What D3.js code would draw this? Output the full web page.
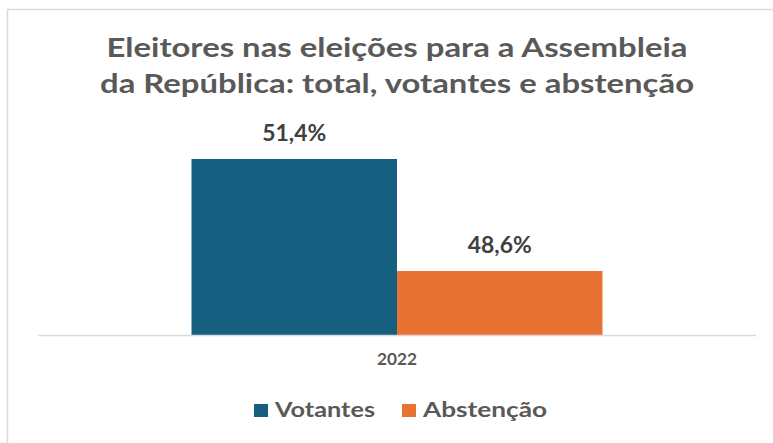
<!DOCTYPE html>
<html>
<head>
<meta charset="utf-8">
<script src="https://cdn.jsdelivr.net/npm/d3@7"></script>
<style>
  body { margin: 0; background: #fff; }
  svg { display: block; }
  text { font-family: Lato, "Open Sans", sans-serif; font-weight: bold; }
</style>
</head>
<body>
<script>
//chart data
var years = ["2022"];
var seriesNames = ["Votantes", "Abstenção"];
var votantes = [51.4];
var abstencao = [48.6];
var titleLines = ["Eleitores nas eleições para a Assembleia", "da República: total, votantes e abstenção"];
var colors = ["#175f80", "#e87234"];

(function draw(){
  var width = 773, height = 443;
  var plotLeft = 38, plotRight = 756, baseY = 335;

  var svg = d3.select("body").append("svg")
    .attr("width", width)
    .attr("height", height);

  //chart frame border (runs off the right and bottom of the picture)
  svg.append("rect")
    .attr("x", 7.5).attr("y", 9.5)
    .attr("width", 800).attr("height", 500)
    .attr("fill", "none")
    .attr("stroke", "#d9d9d9")
    .attr("stroke-width", 1.5);

  //title
  svg.selectAll(".title")
    .data(titleLines)
    .enter()
    .append("text")
    .attr("class", "title")
    .attr("x", 397)
    .attr("y", function(d, i){ return 57 + i * 36; })
    .attr("text-anchor", "middle")
    .attr("font-size", 26)
    .attr("fill", "#595959")
    .attr("textLength", function(d, i){ return i === 0 ? 581 : 594; })
    .attr("lengthAdjust", "spacingAndGlyphs")
    .text(function(d){ return d; });

  //scales
  var x0 = d3.scaleBand()
    .domain(years)
    .range([plotLeft, plotRight])
    .paddingInner(0)
    .paddingOuter(0.3735);

  var x1 = d3.scaleBand()
    .domain(seriesNames)
    .range([0, x0.bandwidth()]);

  var y = d3.scaleLinear()
    .domain([47, 52])
    .range([baseY, baseY - 200]);

  var color = d3.scaleOrdinal().domain(seriesNames).range(colors);

  //build rows from the arrays
  var rows = years.map(function(yr, i){
    return [
      { year: yr, name: seriesNames[0], value: votantes[i] },
      { year: yr, name: seriesNames[1], value: abstencao[i] }
    ];
  });

  var groups = svg.selectAll(".group")
    .data(rows)
    .enter()
    .append("g")
    .attr("class", "group")
    .attr("transform", function(d){ return "translate(" + x0(d[0].year) + ",0)"; });

  groups.selectAll("rect")
    .data(function(d){ return d; })
    .enter()
    .append("rect")
    .attr("x", function(d){ return x1(d.name); })
    .attr("width", x1.bandwidth())
    .attr("y", function(d){ return y(d.value); })
    .attr("height", function(d){ return baseY - y(d.value); })
    .attr("fill", function(d){ return color(d.name); });

  //value labels
  groups.selectAll(".label")
    .data(function(d){ return d; })
    .enter()
    .append("text")
    .attr("class", "label")
    .attr("x", function(d){ return x1(d.name) + x1.bandwidth() / 2; })
    .attr("y", function(d){ return y(d.value) - 18; })
    .attr("text-anchor", "middle")
    .attr("font-size", 22)
    .attr("fill", "#404040")
    .attr("textLength", 64)
    .attr("lengthAdjust", "spacingAndGlyphs")
    .text(function(d){ return d3.format(".1f")(d.value).replace(".", ",") + "%"; });

  //x axis
  var xAxis = svg.append("g")
    .attr("transform", "translate(0," + baseY + ")")
    .call(d3.axisBottom(x0).tickSize(0).tickPadding(18));
  xAxis.select(".domain")
    .attr("d", "M" + plotLeft + ",0.5H" + plotRight)
    .attr("stroke", "#d9d9d9")
    .attr("stroke-width", 1.5);
  xAxis.selectAll("text")
    .attr("font-size", 17)
    .attr("fill", "#595959")
    .attr("font-family", "Lato, sans-serif")
    .attr("textLength", 40)
    .attr("lengthAdjust", "spacingAndGlyphs");

  //legend
  var legendX = [254, 402];
  var legendW = [100, 124];
  var legend = svg.selectAll(".legend")
    .data(seriesNames)
    .enter()
    .append("g")
    .attr("class", "legend")
    .attr("transform", function(d, i){ return "translate(" + legendX[i] + ",404)"; });

  legend.append("rect")
    .attr("width", 14)
    .attr("height", 13)
    .attr("fill", function(d){ return color(d); });

  legend.append("text")
    .attr("x", 21)
    .attr("y", 13)
    .attr("font-size", 20)
    .attr("fill", "#595959")
    .attr("textLength", function(d, i){ return legendW[i]; })
    .attr("lengthAdjust", "spacingAndGlyphs")
    .text(function(d){ return d; });
})();
</script>
</body>
</html>
